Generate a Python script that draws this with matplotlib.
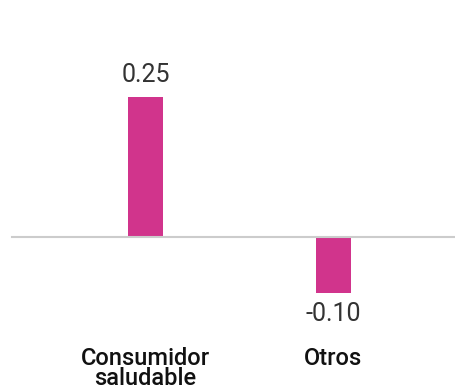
import matplotlib
matplotlib.use("Agg")
import matplotlib.pyplot as plt

# Data
categories = ["Consumidor\nsaludable", "Otros"]
values = [0.25, -0.10]
value_labels = ["0.25", "-0.10"]

bar_color = "#d1348c"
line_color = "#cccccc"

plt.rcParams["font.family"] = ["Roboto", "DejaVu Sans"]

fig = plt.figure(figsize=(4.56, 3.92), dpi=100)
ax = fig.add_axes([0, 0, 1, 1])
ax.set_xlim(-0.774, 1.652)
ax.set_ylim(-0.2768, 0.4232)
ax.axis("off")

x = list(range(len(categories)))
ax.bar(x, values, width=0.186, color=bar_color, zorder=2)
ax.axhline(0, xmin=0.026, xmax=1, color=line_color, lw=1.5, zorder=3)

# Value labels
for xi, v, lab in zip(x, values, value_labels):
    off = 15.6 if v >= 0 else -15
    ax.annotate(lab, (xi, v), xytext=(0, off), textcoords="offset points",
                ha="center", va="center", fontsize=18, fontweight="normal",
                color="#333333")

# Category labels
for xi, cat in zip(x, categories):
    ax.text(xi, 0.115, cat, transform=ax.get_xaxis_transform(),
            ha="center", va="top", fontsize=17, fontweight="medium",
            color="#111111", linespacing=0.85)

fig.savefig("out.png", dpi=100)
